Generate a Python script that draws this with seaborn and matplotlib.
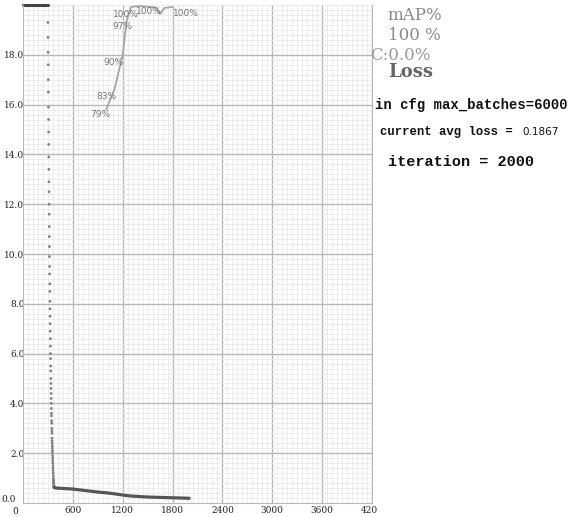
import numpy as np
import matplotlib
matplotlib.use("Agg")
import matplotlib.pyplot as plt
from matplotlib.ticker import MultipleLocator
from matplotlib.patches import Rectangle
import seaborn as sns

# avg loss, first iterations (off the scale, drawn clipped at the top)
early_iters = [0, 100, 200, 299]
early_loss = [950.0, 210.0, 60.0, 22.0]

# fast drop, one dot per iteration starting at 300
drop_loss = [19.3, 18.7, 18.1, 17.6, 17.0, 16.5, 15.9, 15.4, 14.9, 14.4,
             13.9, 13.4, 12.9, 12.5, 12.0, 11.6, 11.1, 10.7, 10.3, 9.9,
             9.5, 9.2, 8.8, 8.5, 8.1, 7.8, 7.5, 7.2, 6.9, 6.6,
             6.3, 6.0, 5.8, 5.5, 5.3, 5.0, 4.8, 4.6, 4.4, 4.2,
             4.0, 3.8, 3.6, 3.5, 3.3, 3.2, 3.0, 2.9, 2.8, 2.6,
             2.5, 2.4, 2.3, 2.2, 2.1, 2.0, 1.9, 1.8, 1.7, 1.6,
             1.5, 1.4, 1.3, 1.2, 1.1, 1.0, 0.95, 0.9, 0.85, 0.8,
             0.76, 0.72, 0.69, 0.66, 0.64, 0.62]
drop_iters = np.arange(300, 300 + len(drop_loss))

# slow phase
slow_iters = [376, 400, 450, 500, 550, 600, 700, 800, 900, 1000, 1100, 1200,
              1300, 1400, 1500, 1600, 1700, 1800, 1900, 2000]
slow_loss = [0.62, 0.60, 0.59, 0.58, 0.57, 0.56, 0.52, 0.48, 0.44, 0.41, 0.37, 0.32,
             0.28, 0.26, 0.24, 0.23, 0.22, 0.21, 0.20, 0.19]

# mAP checks
map_iters = [1000, 1100, 1200, 1250, 1300, 1400, 1600, 1650, 1700, 1800]
map_vals = [79, 83, 90, 97, 99.6, 99.8, 99.5, 98.2, 99.4, 99.6]
map_text = ["79%", "83%", "90%", "97%", "100%", "100%", "", "", "", "100%"]
label_off = [(-6, -5), (-8, -7), (-9, -8), (-4, -7), (-5, -8), (10, -6),
             (0, 0), (0, 0), (0, 0), (13, -7)]

x_ticks = [600, 1200, 1800, 2400, 3000, 3600, 4200]
y_ticks = [2, 4, 6, 8, 10, 12, 14, 16, 18]

sns.set_style("white")

W, H = 572, 517
fig = plt.figure(figsize=(W / 100, H / 100), dpi=100)
ax = fig.add_axes([23 / W, 14 / H, 349 / W, 498 / H])

ax.set_xlim(0, 4200)
ax.set_ylim(0, 20)
ax.xaxis.set_major_locator(MultipleLocator(600))
ax.xaxis.set_minor_locator(MultipleLocator(60))
ax.yaxis.set_major_locator(MultipleLocator(2))
ax.yaxis.set_minor_locator(MultipleLocator(0.2))
ax.grid(which="major", color="#b8b8b8", lw=1.0)
ax.grid(which="minor", color="#eaeaea", lw=0.6)
ax.set_axisbelow(True)
for s in ["left", "bottom", "right"]:
    ax.spines[s].set_color("#b8b8b8")
ax.spines["top"].set_visible(False)

ax.set_xticks(x_ticks)
ax.set_xticklabels([str(t) for t in x_ticks], fontfamily="DejaVu Serif",
                   fontsize=6.5, color="#222")
ax.set_yticks(y_ticks)
ax.set_yticklabels([f"{t:.1f}" for t in y_ticks], fontfamily="DejaVu Serif",
                   fontsize=6.5, color="#222")
ax.tick_params(which="both", length=0)
ax.tick_params(axis="y", pad=-1)
ax.tick_params(axis="x", pad=2)

# loss
sns.lineplot(x=early_iters, y=np.minimum(early_loss, 20), ax=ax,
             color="#444", lw=2.2)
ax.lines[-1].set_clip_on(False)
sns.scatterplot(x=drop_iters, y=drop_loss, ax=ax, s=4, color="#808080",
                edgecolor="none")
sns.lineplot(x=slow_iters, y=slow_loss, ax=ax, color="#555", lw=2.3)

# mAP
ax2 = ax.twinx()
ax2.set_ylim(0, 100)
ax2.set_yticks([])
for s in ax2.spines.values():
    s.set_visible(False)
ax2.grid(False)
sns.lineplot(x=map_iters, y=map_vals, ax=ax2, color="#a5a5a5", lw=1.3)
ax2.lines[-1].set_clip_on(False)
for it, v, t, (dx, dy) in zip(map_iters, map_vals, map_text, label_off):
    if t:
        ax2.annotate(t, (it, v), xytext=(dx * 0.72, dy * 0.72),
                     textcoords="offset points", ha="center", va="center",
                     fontsize=6.5, color="#777", annotation_clip=False)

# corner labels
fig.text(1 / W, 1 - 500 / H, "0.0", fontfamily="DejaVu Serif", fontsize=6.5,
         color="#222", va="center")
fig.text(12 / W, 1 - 511 / H, "0", fontfamily="DejaVu Serif", fontsize=6.5,
         color="#222", va="center")

# right panel
fig.patches.append(Rectangle((377 / W, 0), 1 - 377 / W, 1, transform=fig.transFigure,
                             facecolor="white", edgecolor="none", zorder=5))

def ptext(x, y, s, **kw):
    fig.text(x / W, 1 - y / H, s, va="center", ha="left", zorder=6, **kw)

ptext(387, 15, "mAP%", fontfamily="DejaVu Serif", fontsize=12, color="#888")
ptext(388, 35, "100 %", fontfamily="DejaVu Serif", fontsize=12, color="#888")
ptext(370, 55, "C:0.0%", fontfamily="DejaVu Serif", fontsize=12, color="#999")
ptext(388, 72, "Loss", fontfamily="DejaVu Serif", fontsize=13, color="#666",
      fontweight="bold")
ptext(375, 105, "in cfg max_batches=6000", fontfamily="Liberation Mono",
      fontsize=10, fontweight="bold", color="#111")
ptext(380, 132, "current avg loss = ", fontfamily="Liberation Mono",
      fontsize=8.8, fontweight="bold", color="#111")
ptext(522, 132, "0.1867", fontfamily="DejaVu Sans", fontsize=7.5, color="#111")
ptext(388, 162, "iteration = 2000", fontfamily="Liberation Mono",
      fontsize=11, fontweight="bold", color="#111")

fig.savefig("out.png", dpi=100)
